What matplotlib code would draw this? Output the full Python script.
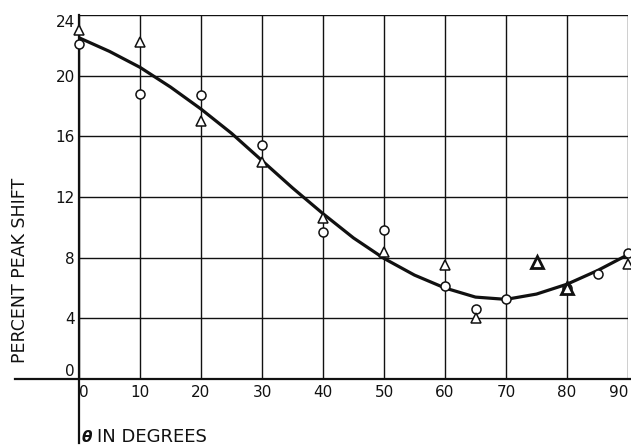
import matplotlib
matplotlib.use("Agg")
import matplotlib.pyplot as plt

# ---- data ----
theta_circ = [0, 10, 20, 30, 40, 50, 60, 65, 70, 80, 85, 90]
shift_circ = [22.1, 18.8, 18.7, 15.4, 9.7, 9.8, 6.1, 4.6, 5.3, 6.0, 6.9, 8.3]

theta_tri = [0, 10, 20, 30, 40, 50, 60, 65, 90]
shift_tri = [23.0, 22.2, 17.0, 14.3, 10.6, 8.35, 7.5, 4.0, 7.6]

theta_tri_bold = [75, 80]
shift_tri_bold = [7.7, 6.0]

theta_curve = [0, 5, 10, 15, 20, 25, 30, 35, 40, 45, 50, 55, 60, 65, 70, 75, 80, 85, 90]
shift_curve = [22.5, 21.6, 20.55, 19.25, 17.8, 16.2, 14.4, 12.6, 10.9, 9.3, 7.95, 6.85, 6.0,
               5.4, 5.25, 5.6, 6.25, 7.15, 8.2]

xticks = [0, 10, 20, 30, 40, 50, 60, 70, 80, 90]
yticks = [0, 4, 8, 12, 16, 20, 24]

W, H = 631, 445
fig = plt.figure(figsize=(W / 100, H / 100), dpi=100)
left, right, top, bottom = 79, 628, 15, 379
ax = fig.add_axes([left / W, 1 - bottom / H, (right - left) / W, (bottom - top) / H])

ax.set_xlim(0, 90)
ax.set_ylim(0, 24)

ink = "#111111"
for x in xticks:
    ax.axvline(x, color=ink, lw=1.0, zorder=1)
for y in yticks:
    ax.axhline(y, color=ink, lw=1.0, zorder=1)

for s in ax.spines.values():
    s.set_visible(False)

# extended axis lines
ax.axhline(0, xmin=-64 / (right - left), xmax=1.01, color=ink, lw=1.6, clip_on=False, zorder=2)
ax.axvline(0, ymin=-64 / (bottom - top), ymax=1, color=ink, lw=1.6, clip_on=False, zorder=2)

ax.plot(theta_curve, shift_curve, color=ink, lw=2.3, solid_capstyle="round",
        solid_joinstyle="round", zorder=3)

ax.plot(theta_circ, shift_circ, linestyle="none", marker="o", ms=6.5, mfc="white",
        mec=ink, mew=1.1, zorder=4, clip_on=False)
ax.plot(theta_tri, shift_tri, linestyle="none", marker="^", ms=7, mfc="white",
        mec=ink, mew=1.1, zorder=5, clip_on=False)
ax.plot(theta_tri_bold, shift_tri_bold, linestyle="none", marker="^", ms=9, mfc="white",
        mec=ink, mew=2.0, zorder=5)

ax.set_xticks(xticks)
ax.set_yticks(yticks)
ax.tick_params(length=0, labelsize=11, colors=ink, pad=3)
ax.tick_params(axis="x", pad=4)
ax.set_xticklabels([str(v) for v in xticks])
ax.set_yticklabels([str(v) for v in yticks])
xl = ax.get_xticklabels()
xl[0].set_horizontalalignment("left")
xl[-1].set_horizontalalignment("right")
yl = ax.get_yticklabels()
yl[0].set_verticalalignment("bottom")
yl[-1].set_verticalalignment("top")

fig.text(20 / W, 1 - 270 / H, "PERCENT PEAK SHIFT", rotation=90, ha="center", va="center",
         fontsize=12.5, color=ink)
fig.text(82 / W, 1 - 437 / H, "θ", ha="left", va="center", fontsize=11,
         fontweight="bold", fontstyle="italic", color=ink)
fig.text(97 / W, 1 - 437 / H, "IN DEGREES", ha="left", va="center", fontsize=13,
         color=ink)

fig.savefig("out.png", dpi=100)
